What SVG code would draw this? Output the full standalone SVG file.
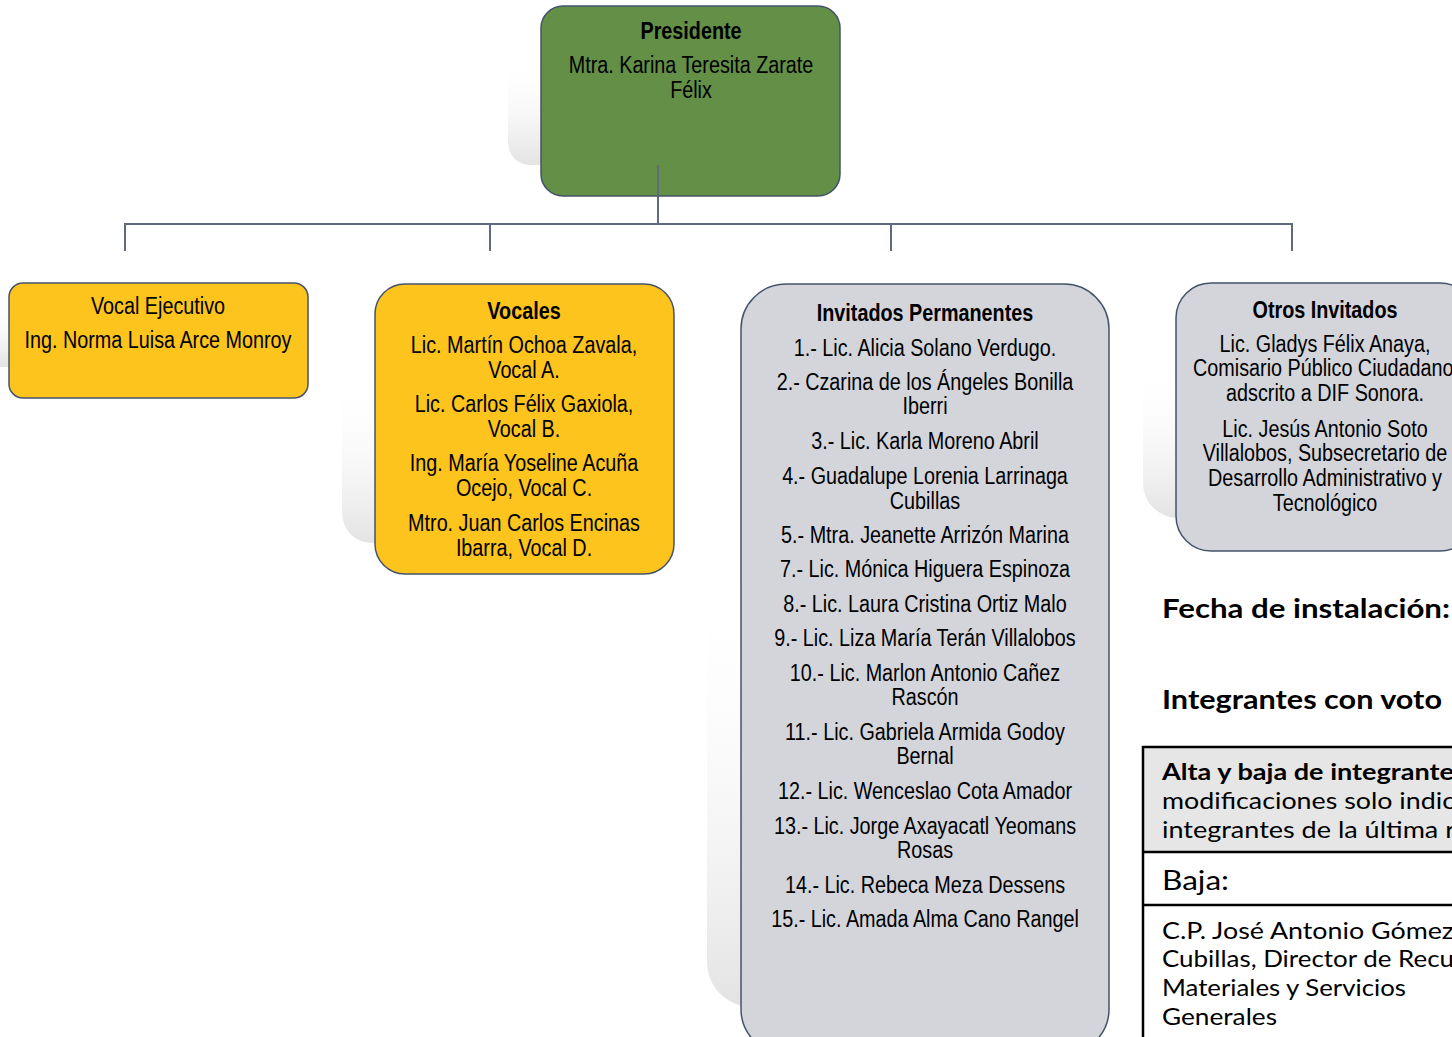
<svg xmlns="http://www.w3.org/2000/svg" width="1452" height="1037" viewBox="0 0 1452 1037">
<defs>
<linearGradient id="refl" x1="0" y1="0" x2="0" y2="1">
<stop offset="0" stop-color="#ffffff" stop-opacity="0"/>
<stop offset="0.42" stop-color="#ffffff" stop-opacity="0"/>
<stop offset="1" stop-color="#e3e3e3" stop-opacity="1"/>
</linearGradient>
<style>
.shadow{fill:url(#refl);stroke:none}
.green{fill:#638f47;stroke:#44536a;stroke-width:1.5}
.yellow{fill:#fcc41d;stroke:#44536a;stroke-width:1.5}
.gray{fill:#d3d5da;stroke:#44536a;stroke-width:1.5}
.t{font-family:"Liberation Sans",Arial,sans-serif;font-size:23px;fill:#000;text-anchor:middle}
.b{font-weight:bold}
.conn{stroke:#5f6a7c;stroke-width:2;fill:none}
.g{font-family:"Lato","Liberation Sans",sans-serif;fill:#000}
.tbl{stroke:#000;stroke-width:2.5;fill:none}
</style>
</defs>
<g id="presidente">
<rect class="shadow" x="508" y="-25" width="300" height="190" rx="22"/>
<rect class="green" x="541" y="6" width="299" height="190" rx="22"/>
<g transform="translate(691 0) scale(0.86 1)">
<text class="t b" x="0" y="39">Presidente</text>
<text class="t" x="0" y="73">Mtra. Karina Teresita Zarate</text>
<text class="t" x="0" y="98">Félix</text>
</g>
</g>
<g id="connectors">
<path class="conn" d="M658 165V224M124 224H1293M125 224V251M490 224V251M891 224V251M1292 224V251"/>
</g>
<g id="vocal-ejecutivo">
<rect class="shadow" x="-24" y="252" width="299" height="115" rx="14"/>
<rect class="yellow" x="9" y="283" width="299" height="115" rx="14"/>
<g transform="translate(158 0) scale(0.86 1)">
<text class="t" x="0" y="314">Vocal Ejecutivo</text>
<text class="t" x="0" y="348">Ing. Norma Luisa Arce Monroy</text>
</g>
</g>
<g id="vocales">
<rect class="shadow" x="342" y="253" width="299" height="290" rx="30"/>
<rect class="yellow" x="375" y="284" width="299" height="290" rx="30"/>
<g transform="translate(524 0) scale(0.86 1)">
<text class="t b" x="0" y="319">Vocales</text>
<text class="t" x="0" y="353">Lic. Martín Ochoa Zavala,</text>
<text class="t" x="0" y="378">Vocal A.</text>
<text class="t" x="0" y="412">Lic. Carlos Félix Gaxiola,</text>
<text class="t" x="0" y="437">Vocal B.</text>
<text class="t" x="0" y="471">Ing. María Yoseline Acuña</text>
<text class="t" x="0" y="496">Ocejo, Vocal C.</text>
<text class="t" x="0" y="531">Mtro. Juan Carlos Encinas</text>
<text class="t" x="0" y="556">Ibarra, Vocal D.</text>
</g>
</g>
<g id="invitados-permanentes">
<rect class="shadow" x="707" y="253" width="369" height="754" rx="45"/>
<rect class="gray" x="741" y="284" width="368" height="770" rx="45"/>
<g transform="translate(925 0) scale(0.86 1)">
<text class="t b" x="0" y="321">Invitados Permanentes</text>
<text class="t" x="0" y="356">1.- Lic. Alicia Solano Verdugo.</text>
<text class="t" x="0" y="390">2.- Czarina de los Ángeles Bonilla</text>
<text class="t" x="0" y="414">Iberri</text>
<text class="t" x="0" y="449">3.- Lic. Karla Moreno Abril</text>
<text class="t" x="0" y="484">4.- Guadalupe Lorenia Larrinaga</text>
<text class="t" x="0" y="509">Cubillas</text>
<text class="t" x="0" y="543">5.- Mtra. Jeanette Arrizón Marina</text>
<text class="t" x="0" y="577">7.- Lic. Mónica Higuera Espinoza</text>
<text class="t" x="0" y="612">8.- Lic. Laura Cristina Ortiz Malo</text>
<text class="t" x="0" y="646">9.- Lic. Liza María Terán Villalobos</text>
<text class="t" x="0" y="681">10.- Lic. Marlon Antonio Cañez</text>
<text class="t" x="0" y="705">Rascón</text>
<text class="t" x="0" y="740">11.- Lic. Gabriela Armida Godoy</text>
<text class="t" x="0" y="764">Bernal</text>
<text class="t" x="0" y="799">12.- Lic. Wenceslao Cota Amador</text>
<text class="t" x="0" y="834">13.- Lic. Jorge Axayacatl Yeomans</text>
<text class="t" x="0" y="858">Rosas</text>
<text class="t" x="0" y="893">14.- Lic. Rebeca Meza Dessens</text>
<text class="t" x="0" y="927">15.- Lic. Amada Alma Cano Rangel</text>
</g>
</g>
<g id="otros-invitados">
<rect class="shadow" x="1143" y="252" width="299" height="266" rx="35"/>
<rect class="gray" x="1176" y="283" width="299" height="268" rx="35"/>
<g transform="translate(1325 0) scale(0.86 1)">
<text class="t b" x="0" y="318">Otros Invitados</text>
<text class="t" x="0" y="352">Lic. Gladys Félix Anaya,</text>
<text class="t" x="-2" y="376">Comisario Público Ciudadano</text>
<text class="t" x="0" y="401">adscrito a DIF Sonora.</text>
<text class="t" x="0" y="437">Lic. Jesús Antonio Soto</text>
<text class="t" x="0" y="461">Villalobos, Subsecretario de</text>
<text class="t" x="0" y="486">Desarrollo Administrativo y</text>
<text class="t" x="0" y="511">Tecnológico</text>
</g>
</g>
<g id="info">
<text class="g b" x="1162" y="618" font-size="26" textLength="288" lengthAdjust="spacingAndGlyphs">Fecha de instalación:</text>
<text class="g b" x="1162" y="709" font-size="26" textLength="280" lengthAdjust="spacingAndGlyphs">Integrantes con voto</text>
</g>
<g id="tabla">
<rect x="1142" y="747" width="320" height="105" fill="#e6e6e6"/>
<path class="tbl" d="M1143 1037V747H1460M1142 852H1460M1142 905H1460"/>
<text class="g b" x="1162" y="780" font-size="23" textLength="292" lengthAdjust="spacingAndGlyphs">Alta y baja de integrante</text>
<text class="g" x="1162" y="809" font-size="23" textLength="293" lengthAdjust="spacingAndGlyphs">modificaciones solo indic</text>
<text class="g" x="1162" y="838" font-size="23" textLength="293" lengthAdjust="spacingAndGlyphs">integrantes de la última r</text>
<text class="g" x="1162" y="890" font-size="27" textLength="67" lengthAdjust="spacingAndGlyphs">Baja:</text>
<text class="g" x="1162" y="939" font-size="23" textLength="292" lengthAdjust="spacingAndGlyphs">C.P. José Antonio Gómez</text>
<text class="g" x="1162" y="967" font-size="23" textLength="292" lengthAdjust="spacingAndGlyphs">Cubillas, Director de Recu</text>
<text class="g" x="1162" y="996" font-size="23" textLength="244" lengthAdjust="spacingAndGlyphs">Materiales y Servicios</text>
<text class="g" x="1162" y="1025" font-size="23" textLength="115" lengthAdjust="spacingAndGlyphs">Generales</text>
</g>
</svg>
